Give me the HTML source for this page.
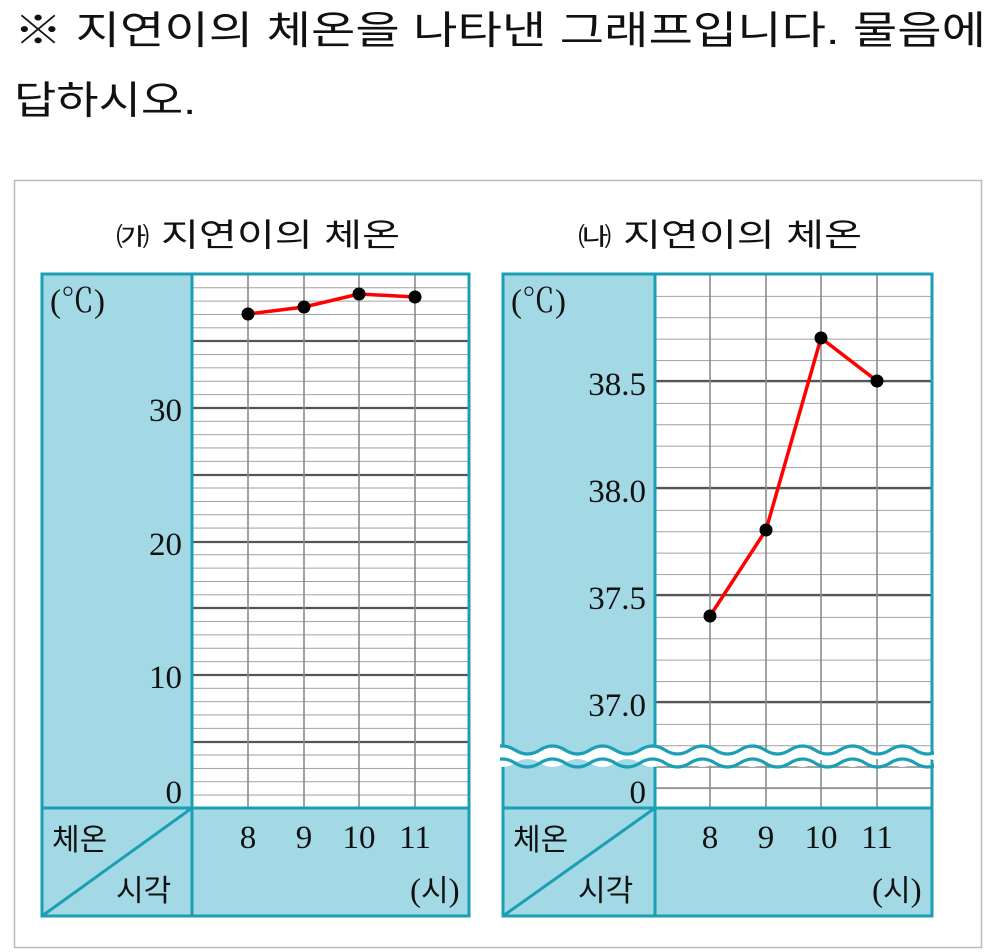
<!DOCTYPE html>
<html><head><meta charset="utf-8"><style>
body{margin:0;background:#fff;}
svg{display:block;}
text{font-family:"Liberation Serif","Noto Serif CJK SC",serif;}
.k{font-family:"Liberation Sans","Noto Sans CJK KR",sans-serif;}
</style></head><body>
<svg width="993" height="952" viewBox="0 0 993 952" xmlns="http://www.w3.org/2000/svg">
<defs>
<pattern id="gl" patternUnits="userSpaceOnUse" x="0" y="274" width="10" height="13.35"><line x1="0" y1="0" x2="10" y2="0" stroke="#8a8a8a" stroke-width="1.6"/></pattern>
<pattern id="gr" patternUnits="userSpaceOnUse" x="0" y="274.5" width="10" height="21.4"><line x1="0" y1="0" x2="10" y2="0" stroke="#8a8a8a" stroke-width="1.6"/></pattern>
<clipPath id="cb"><rect x="500" y="700" width="434" height="100"/></clipPath>
</defs>
<text class="k" x="14" y="44" font-size="39" fill="#111" textLength="972" lengthAdjust="spacingAndGlyphs">※ 지연이의 체온을 나타낸 그래프입니다. 물음에</text>
<text class="k" x="14" y="114" font-size="39" fill="#111" textLength="182" lengthAdjust="spacingAndGlyphs">답하시오.</text>
<rect x="14.5" y="180.5" width="967" height="767" fill="none" stroke="#bbb" stroke-width="1.5"/>
<text class="k" x="116" y="246" font-size="32" fill="#111" textLength="284" lengthAdjust="spacingAndGlyphs"><tspan font-size="26">㈎</tspan> 지연이의 체온</text>
<text class="k" x="578" y="246" font-size="32" fill="#111" textLength="284" lengthAdjust="spacingAndGlyphs"><tspan font-size="26">㈏</tspan> 지연이의 체온</text>

<!-- LEFT -->
<rect x="42" y="273" width="150" height="643" fill="#a3d8e5"/>
<rect x="192" y="808" width="277" height="108" fill="#a3d8e5"/>
<rect x="192" y="273" width="277" height="535" fill="url(#gl)"/>
<g stroke="#555" stroke-width="2.2">
<line x1="192" y1="341" x2="469" y2="341"/><line x1="192" y1="408" x2="469" y2="408"/>
<line x1="192" y1="475" x2="469" y2="475"/><line x1="192" y1="542" x2="469" y2="542"/>
<line x1="192" y1="608" x2="469" y2="608"/><line x1="192" y1="675" x2="469" y2="675"/>
<line x1="192" y1="742" x2="469" y2="742"/></g>
<g stroke="#8a8a8a" stroke-width="1.6">
<line x1="248" y1="273" x2="248" y2="808"/><line x1="304" y1="273" x2="304" y2="808"/>
<line x1="359" y1="273" x2="359" y2="808"/><line x1="415" y1="273" x2="415" y2="808"/></g>
<g fill="none" stroke="#1a9fb5" stroke-width="3">
<rect x="42" y="274" width="427" height="642"/>
<line x1="192" y1="274" x2="192" y2="916"/><line x1="42" y1="808" x2="469" y2="808"/>
<line x1="42" y1="916" x2="192" y2="808"/></g>
<polyline points="248,314 304,307 359,294 415,297" fill="none" stroke="#f00" stroke-width="3.5"/>
<g fill="#000"><circle cx="248" cy="314" r="6.5"/><circle cx="304" cy="307" r="6.5"/><circle cx="359" cy="294" r="6.5"/><circle cx="415" cy="297" r="6.5"/></g>
<g font-size="33" fill="#111">
<text x="50" y="312">(℃)</text>
<g text-anchor="end"><text x="182" y="421">30</text><text x="182" y="555">20</text><text x="182" y="688">10</text><text x="182" y="803">0</text></g>
<g text-anchor="middle"><text x="248" y="848">8</text><text x="304" y="848">9</text><text x="359" y="848">10</text><text x="415" y="848">11</text></g>
<text x="410" y="901">(<tspan class="k" font-size="30">시</tspan>)</text>
</g>
<text class="k" x="52" y="850" font-size="30" fill="#111">체온</text>
<text class="k" x="116" y="901" font-size="30" fill="#111">시각</text>

<!-- RIGHT -->
<rect x="503" y="273" width="152" height="643" fill="#a3d8e5"/>
<rect x="655" y="808" width="277" height="108" fill="#a3d8e5"/>
<rect x="655" y="273" width="277" height="535" fill="url(#gr)"/>
<g stroke="#555" stroke-width="2.2">
<line x1="655" y1="381" x2="932" y2="381"/><line x1="655" y1="488" x2="932" y2="488"/>
<line x1="655" y1="595" x2="932" y2="595"/><line x1="655" y1="702" x2="932" y2="702"/></g>
<g stroke="#8a8a8a" stroke-width="1.6">
<line x1="655" y1="767" x2="932" y2="767"/><line x1="655" y1="788" x2="932" y2="788"/>
<line x1="710" y1="273" x2="710" y2="808"/><line x1="766" y1="273" x2="766" y2="808"/>
<line x1="821" y1="273" x2="821" y2="808"/><line x1="877" y1="273" x2="877" y2="808"/></g>
<g fill="none" stroke="#1a9fb5" stroke-width="3">
<rect x="503" y="274" width="429" height="642"/>
<line x1="655" y1="274" x2="655" y2="916"/>
<line x1="503" y1="808" x2="932" y2="808"/>
<line x1="503" y1="916" x2="655" y2="808"/></g>
<!-- break -->
<g clip-path="url(#cb)">
<path d="M490,750 q12.5,-8 25,0 t25,0 t25,0 t25,0 t25,0 t25,0 t25,0 t25,0 t25,0 t25,0 t25,0 t25,0 t25,0 t25,0 t25,0 t25,0 t25,0 t25,0 t25,0 L965,763 q-12.5,8 -25,0 t-25,0 t-25,0 t-25,0 t-25,0 t-25,0 t-25,0 t-25,0 t-25,0 t-25,0 t-25,0 t-25,0 t-25,0 t-25,0 t-25,0 t-25,0 t-25,0 t-25,0 t-25,0 Z" fill="#fff"/>
<g fill="none" stroke="#1a9fb5" stroke-width="3.2">
<path d="M490,750 q12.5,-8 25,0 t25,0 t25,0 t25,0 t25,0 t25,0 t25,0 t25,0 t25,0 t25,0 t25,0 t25,0 t25,0 t25,0 t25,0 t25,0 t25,0 t25,0 t25,0"/>
<path d="M490,763 q12.5,-8 25,0 t25,0 t25,0 t25,0 t25,0 t25,0 t25,0 t25,0 t25,0 t25,0 t25,0 t25,0 t25,0 t25,0 t25,0 t25,0 t25,0 t25,0 t25,0"/>
</g></g>
<polyline points="710,616 766,530 821,338 877,381" fill="none" stroke="#f00" stroke-width="3.5"/>
<g fill="#000"><circle cx="710" cy="616" r="6.5"/><circle cx="766" cy="530" r="6.5"/><circle cx="821" cy="338" r="6.5"/><circle cx="877" cy="381" r="6.5"/></g>
<g font-size="33" fill="#111">
<text x="511" y="312">(℃)</text>
<g text-anchor="end"><text x="646" y="395">38.5</text><text x="646" y="502">38.0</text><text x="646" y="609">37.5</text><text x="646" y="716">37.0</text><text x="646" y="803">0</text></g>
<g text-anchor="middle"><text x="710" y="848">8</text><text x="766" y="848">9</text><text x="821" y="848">10</text><text x="877" y="848">11</text></g>
<text x="872" y="901">(<tspan class="k" font-size="30">시</tspan>)</text>
</g>
<text class="k" x="513" y="850" font-size="30" fill="#111">체온</text>
<text class="k" x="578" y="901" font-size="30" fill="#111">시각</text>
</svg>
</body></html>
